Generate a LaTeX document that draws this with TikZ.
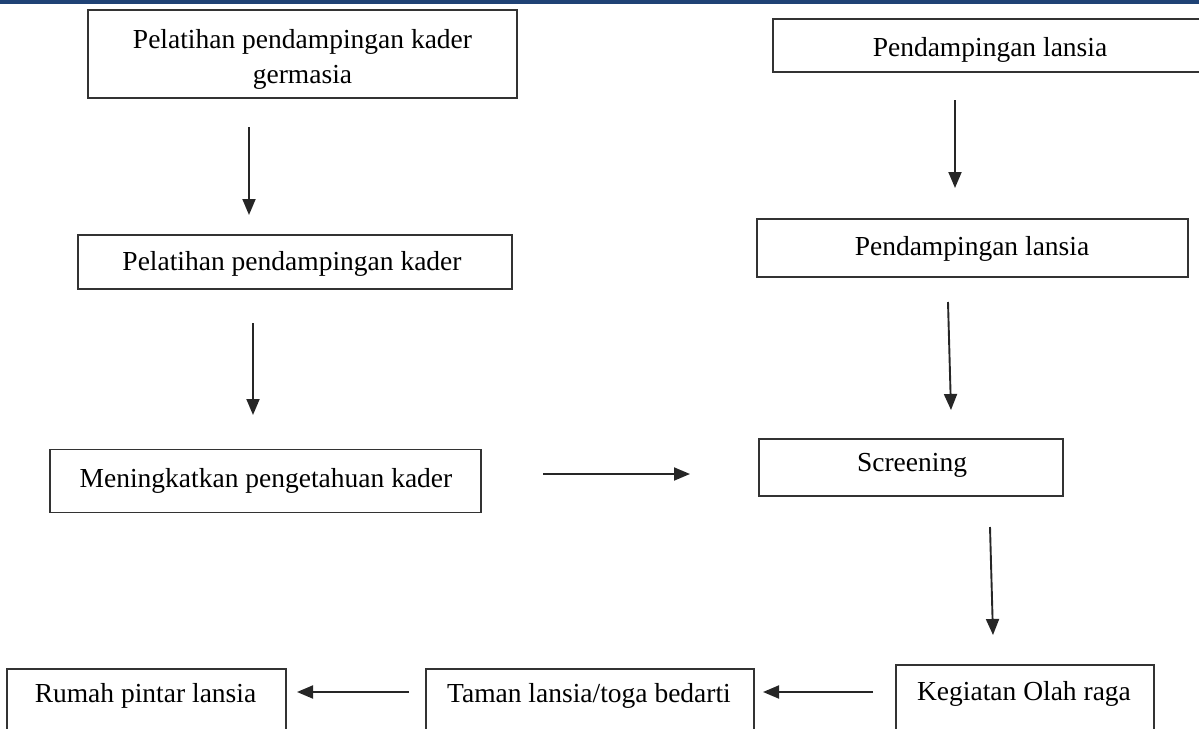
\documentclass[tikz,border=0pt]{standalone}
\usepackage{fontspec}
\setmainfont{Liberation Serif}
\usetikzlibrary{arrows.meta}
\definecolor{edge}{HTML}{333333}
\definecolor{topbar}{HTML}{1F4275}
\tikzset{
  box/.style={draw=edge, line width=1.6pt, inner sep=0pt, align=center,
    font=\fontsize{27.5}{35}\selectfont, text=black},
  lbl/.style={inner sep=0pt, font=\fontsize{27.5}{35}\selectfont, text=black},
  flow/.style={draw=black!85, line width=1.9pt,
    -{Triangle[length=16pt,width=13pt]}},
}
\begin{document}
\begin{tikzpicture}[x=1pt,y=-1pt]
\useasboundingbox (0,0) rectangle (1199,728);
\clip (0,0) rectangle (1199,728);
\fill[topbar] (0,0) rectangle (1199,4);
% boxes
\node[box, minimum width=429, minimum height=88] (A) at (302.5,54) {};
\node[lbl, align=center] (At) at (302.5,59) {Pelatihan pendampingan kader\\germasia};
\node[box, minimum width=434, minimum height=53] (B) at (990,45.5) {};
\node[lbl] (Bt) at (990,50) {Pendampingan lansia};
\node[box, minimum width=434, minimum height=54] (C) at (295,262) {};
\node[lbl] (Ct) at (292,264) {Pelatihan pendampingan kader};
\node[box, minimum width=431, minimum height=58] (D) at (972.5,248) {};
\node[lbl] (Dt) at (972,249) {Pendampingan lansia};
\node[box, minimum width=431, minimum height=63] (E) at (265.5,481) {};
\node[lbl] (Et) at (266,481) {Meningkatkan pengetahuan kader};
\node[box, minimum width=304, minimum height=57] (F) at (911,467.5) {};
\node[lbl] (Ft) at (912,465) {Screening};
\node[box, minimum width=258, minimum height=76, anchor=north west] (G) at (895,664) {};
\node[lbl] (Gt) at (1024,694) {Kegiatan Olah raga};
\node[box, minimum width=328, minimum height=76, anchor=north west] (H) at (425,668) {};
\node[lbl] (Ht) at (589,696) {Taman lansia/toga bedarti};
\node[box, minimum width=279, minimum height=76, anchor=north west] (R) at (6,668) {};
\node[lbl] (Rt) at (145.5,696) {Rumah pintar lansia};
% arrow end points
\coordinate (a1) at (249,127); \coordinate (a2) at (249,215);
\coordinate (c1) at (253,323); \coordinate (c2) at (253,415);
\coordinate (e1) at (543,474); \coordinate (e2) at (690,474);
\coordinate (b1) at (955,100); \coordinate (b2) at (955,188);
\coordinate (d1) at (948,302); \coordinate (d2) at (951,410);
\coordinate (f1) at (990,527); \coordinate (f2) at (993,635);
\coordinate (g1) at (873,692); \coordinate (g2) at (763,692);
\coordinate (h1) at (409,692); \coordinate (h2) at (297,692);
\draw[flow] (a1) -- (a2);
\draw[flow] (c1) -- (c2);
\draw[flow] (e1) -- (e2);
\draw[flow] (b1) -- (b2);
\draw[flow] (d1) -- (d2);
\draw[flow] (f1) -- (f2);
\draw[flow] (g1) -- (g2);
\draw[flow] (h1) -- (h2);
\end{tikzpicture}
\end{document}
